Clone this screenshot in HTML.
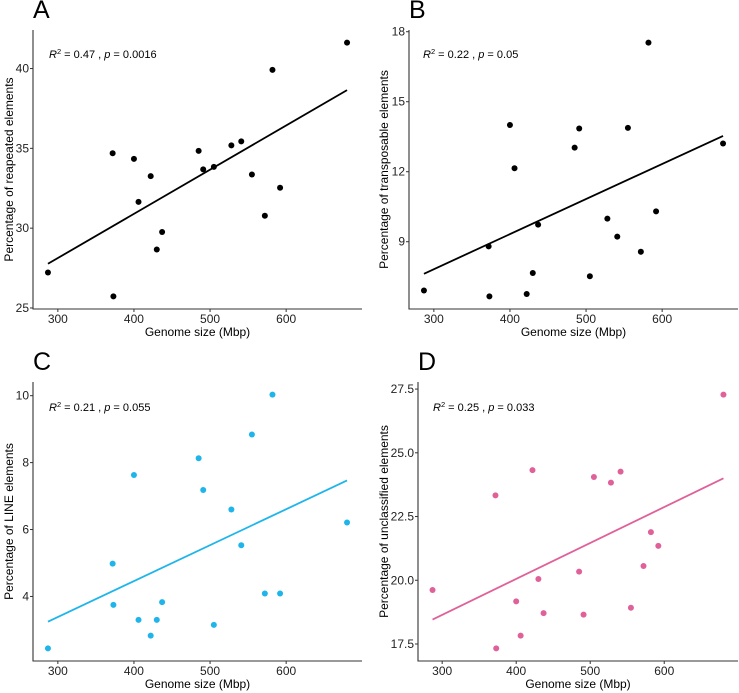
<!DOCTYPE html>
<html><head><meta charset="utf-8"><style>
html,body{margin:0;padding:0;background:#fff;}
svg{display:block;font-family:"Liberation Sans",Arial,sans-serif;}
</style></head><body>
<svg id="fig" width="739" height="693" viewBox="0 0 739 693" xmlns="http://www.w3.org/2000/svg"></svg>
<script>
const genomeSize = [287,373,372,400,406,422,430,437,485,491,505,528,541,555,572,582,592,680];
const repeatPct = [27.22,25.73,34.69,34.34,31.65,33.26,28.66,29.76,34.84,33.68,33.84,35.19,35.44,33.36,30.78,39.92,32.53,41.62];
const tePct = [6.91,6.66,8.80,14.00,12.15,6.76,7.66,9.73,13.03,13.85,7.52,9.99,9.22,13.88,8.57,17.53,10.30,13.21];
const linePct = [2.45,3.75,4.98,7.63,3.30,2.83,3.30,3.83,8.13,7.18,3.15,6.60,5.53,8.84,4.09,10.03,4.09,6.21];
const unclPct = [19.62,17.33,23.33,19.17,17.83,24.32,20.05,18.71,20.34,18.65,24.05,23.83,24.26,18.92,20.56,21.89,21.35,27.28];
const xTicks = [300,400,500,600];
const yTicksA = [25,30,35,40];
const yTicksB = [9,12,15,18];
const yTicksC = [4,6,8,10];
const yTicksD = [17.5,20.0,22.5,25.0,27.5];
const yLabelsD = ["17.5","20.0","22.5","25.0","27.5"];
const statsR2 = ["0.47","0.22","0.21","0.25"];
const statsP = ["0.0016","0.05","0.055","0.033"];

const NS="http://www.w3.org/2000/svg";
const svg=document.getElementById('fig');
function mk(tag,attrs,parent){const e=document.createElementNS(NS,tag);for(const k in attrs)e.setAttribute(k,attrs[k]);(parent||svg).appendChild(e);return e;}

const panels=[
 {id:'a',letter:'A',y:repeatPct,ticks:yTicksA,labels:yTicksA.map(String),title:'Percentage of reapeated elements',color:'#000',L:33,R:362,T:30,B:309,titleX:9,annX:49,annY:58},
 {id:'b',letter:'B',y:tePct,ticks:yTicksB,labels:yTicksB.map(String),title:'Percentage of transposable elements',color:'#000',L:409,R:738,T:30,B:309,titleX:384,annX:423,annY:58},
 {id:'c',letter:'C',y:linePct,ticks:yTicksC,labels:yTicksC.map(String),title:'Percentage of LINE elements',color:'#1fb5ea',L:33,R:362,T:382,B:661,titleX:9,annX:49,annY:411},
 {id:'d',letter:'D',y:unclPct,ticks:yTicksD,labels:yLabelsD,title:'Percentage of unclassified elements',color:'#e0619a',L:418,R:738,T:382,B:661,titleX:384,annX:433,annY:411}
];

panels.forEach((p,pi)=>{
  const g=mk('g',{});
  
  
  const xmin=Math.min(...genomeSize),xmax=Math.max(...genomeSize);
  const ymin=Math.min(...p.y),ymax=Math.max(...p.y);
  const x0=xmin-(xmax-xmin)*0.05,x1=xmax+(xmax-xmin)*0.05;
  const y0=ymin-(ymax-ymin)*0.05,y1=ymax+(ymax-ymin)*0.05;
  const sx=v=>p.L+(v-x0)/(x1-x0)*(p.R-p.L);
  const sy=v=>p.B-(v-y0)/(y1-y0)*(p.B-p.T);
  const lt=mk('text',{x:p.L,y:p.T-12,'font-size':25,fill:'#000'},g);lt.textContent=p.letter;
  
  
  const ax=mk('path',{d:`M${p.L},${p.T}V${p.B}H${p.R}`,stroke:'#333',fill:'none','stroke-width':1.1},g);
  
  
  xTicks.forEach(t=>{
    const X=sx(t);
    mk('line',{x1:X,x2:X,y1:p.B,y2:p.B+3,stroke:'#333'},g);
    const tx=mk('text',{x:X,y:p.B+14,'font-size':12,fill:'#222','text-anchor':'middle'},g);tx.textContent=t;
    
    
  });
  p.ticks.forEach((t,i)=>{
    const Y=sy(t);
    mk('line',{x1:p.L-3,x2:p.L,y1:Y,y2:Y,stroke:'#333'},g);
    const ty=mk('text',{x:p.L-4,y:Y+4,'font-size':12,fill:'#222','text-anchor':'end'},g);ty.textContent=p.labels[i];
    
    
  });
  const xt=mk('text',{x:(p.L+p.R)/2,y:p.B+27,'font-size':12,fill:'#000','text-anchor':'middle'},g);xt.textContent='Genome size (Mbp)';
  
  
  const yc=(p.T+p.B)/2;
  const yt=mk('text',{x:p.titleX,y:yc,'font-size':12,fill:'#000','text-anchor':'middle',transform:`rotate(-90 ${p.titleX} ${yc})`,dy:'0.35em'},g);yt.textContent=p.title;
  
  
  const an=mk('text',{x:p.annX,y:p.annY,'font-size':11,fill:'#000'},g);
  
  
  an.innerHTML=`<tspan font-style="italic">R</tspan><tspan font-size="7.5" dy="-4">2</tspan><tspan dy="4"> = ${statsR2[pi]} , </tspan><tspan font-style="italic">p</tspan><tspan> = ${statsP[pi]}</tspan>`;
  const n=genomeSize.length;let mx=0,my=0;
  for(let i=0;i<n;i++){mx+=genomeSize[i];my+=p.y[i];}mx/=n;my/=n;
  let sxy=0,sxx=0;for(let i=0;i<n;i++){sxy+=(genomeSize[i]-mx)*(p.y[i]-my);sxx+=(genomeSize[i]-mx)**2;}
  const b=sxy/sxx,a=my-b*mx;
  const ln=mk('line',{x1:sx(xmin),y1:sy(a+b*xmin),x2:sx(xmax),y2:sy(a+b*xmax),stroke:p.color,'stroke-width':1.8},g);
  
  
  genomeSize.forEach((v,i)=>{
    const c=mk('circle',{cx:sx(v),cy:sy(p.y[i]),r:3,fill:p.color},g);
    
    
  });
});
</script>
</body></html>
